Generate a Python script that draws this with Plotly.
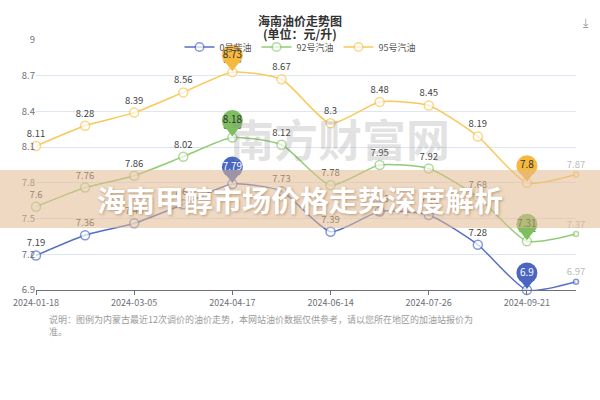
import plotly.graph_objects as go

# ---- data ----
dates = ["2024-01-18", "2024-02-01", "2024-03-05", "2024-03-19", "2024-04-17", "2024-05-16",
         "2024-06-14", "2024-06-28", "2024-07-26", "2024-09-06", "2024-09-21", "2024-10-11"]
tick_dates = ["2024-01-18", "2024-03-05", "2024-04-17", "2024-06-14", "2024-07-26", "2024-09-21"]
diesel = [7.19, 7.36, 7.46, 7.62, 7.79, 7.73, 7.39, 7.56, 7.53, 7.28, 6.90, 6.97]
gas92 = [7.60, 7.76, 7.86, 8.02, 8.18, 8.12, 7.78, 7.95, 7.92, 7.68, 7.31, 7.37]
gas95 = [8.11, 8.28, 8.39, 8.56, 8.73, 8.67, 8.30, 8.48, 8.45, 8.19, 7.80, 7.87]
series_names = ["0号柴油", "92号汽油", "95号汽油"]
y_ticks = [6.9, 7.2, 7.5, 7.8, 8.1, 8.4, 8.7, 9.0]
y_tick_text = ["6.9", "7.2", "7.5", "7.8", "8.1", "8.4", "8.7", "9"]

# ---- style ----
W, H = 600, 400
ML, MR, MT, MB = 36, 24, 40, 110
plot_h = H - MT - MB
plot_w = W - ML - MR
ymin, ymax = 6.9, 9.0
px_per_unit = plot_h / (ymax - ymin)
line_colors = ["#5470c6", "#91cc75", "#fac858"]
pin_colors = ["#4a66c2", "#7dbf5e", "#f5b93e"]
pin_text_colors = ["#ffffff", "#333333", "#333333"]
FONT = "Noto Sans CJK SC, Noto Sans, sans-serif"


def py(px):
    """page pixel y -> paper y"""
    return (H - MB - px) / plot_h


def pxx(px):
    """page pixel x -> paper x"""
    return (px - ML) / plot_w


fig = go.Figure()
all_series = [diesel, gas92, gas95]
n = len(dates)
for vals, name, col in zip(all_series, series_names, line_colors):
    sizes = [9] * (n - 1) + [5]
    tcols = ["#444444"] * (n - 1) + ["#bbbbbb"]
    fig.add_trace(go.Scatter(
        x=dates, y=vals, name=name, mode="lines+markers+text",
        line=dict(color=col, width=1.5, shape="spline", smoothing=0.6),
        marker=dict(symbol="circle", size=sizes, color="white", line=dict(color=col, width=1.5)),
        text=[f"{v:g}" for v in vals], textposition="top center",
        textfont=dict(size=9.5, color=tcols, family=FONT),
        cliponaxis=False, hoverinfo="skip",
    ))

# pins at max & min of each series
for vals, pcol, tcol in zip(all_series, pin_colors, pin_text_colors):
    idxs = [vals.index(max(vals)), vals.index(min(vals))]
    xs = [dates[i] for i in idxs]
    ys = [vals[i] for i in idxs]
    fig.add_trace(go.Scatter(
        x=xs, y=[v + 7 / px_per_unit for v in ys], mode="markers",
        marker=dict(symbol="triangle-down", size=12, color=pcol),
        showlegend=False, hoverinfo="skip", cliponaxis=False))
    fig.add_trace(go.Scatter(
        x=xs, y=[v + 17 / px_per_unit for v in ys], mode="markers+text",
        marker=dict(symbol="circle", size=21, color=pcol),
        text=[f"{v:g}" for v in ys], textposition="middle center",
        textfont=dict(size=10, color=tcol, family=FONT),
        showlegend=False, hoverinfo="skip", cliponaxis=False))

fig.update_layout(
    width=W, height=H,
    margin=dict(l=ML, r=MR, t=MT, b=MB),
    paper_bgcolor="white", plot_bgcolor="white",
    font=dict(family=FONT, color="#6e7079"),
    showlegend=True,
    legend=dict(orientation="h", x=pxx(300), xanchor="center",
                y=py(47), yanchor="middle", yref="paper",
                font=dict(size=9, color="#555555", family=FONT),
                bgcolor="rgba(0,0,0,0)", itemwidth=30),
    xaxis=dict(type="category", range=[0, n - 1], tickvals=tick_dates, ticktext=tick_dates,
               showgrid=False, showline=True, linecolor="#6e7079", linewidth=1,
               ticks="outside", ticklen=4, tickcolor="#6e7079",
               tickfont=dict(size=9, color="#6e7079", family=FONT)),
    yaxis=dict(range=[ymin, ymax], tickvals=y_ticks, ticktext=y_tick_text,
               showgrid=True, gridcolor="#e0e6f1", zeroline=False, showline=False,
               ticks="", tickfont=dict(size=9.5, color="#6e7079", family=FONT)),
)

# title (two lines)
fig.add_annotation(text="<b>海南油价走势图</b>", xref="paper", yref="paper",
                   x=pxx(300), y=py(10), showarrow=False,
                   font=dict(size=12, color="#333333", family=FONT))
fig.add_annotation(text="<b>(单位：元/升)</b>", xref="paper", yref="paper",
                   x=pxx(300), y=py(23), showarrow=False,
                   font=dict(size=12, color="#333333", family=FONT))

# banner overlay
fig.add_shape(type="rect", xref="paper", yref="paper",
              x0=pxx(0), x1=pxx(W), y0=py(228), y1=py(170),
              fillcolor="rgba(225,185,145,0.55)", line=dict(width=0), layer="above")

fig.add_annotation(text="海南甲醇市场价格走势深度解析", xref="paper", yref="paper",
                   x=pxx(300), y=py(199), showarrow=False,
                   font=dict(size=29, color="white", family=FONT, weight="bold",
                             shadow="1px 1px 3px rgba(120,80,40,0.45)"))

# watermark
fig.add_annotation(text="南方财富网", xref="paper", yref="paper",
                   x=pxx(340), y=py(138), showarrow=False,
                   font=dict(size=44, color="rgba(140,140,140,0.25)", family=FONT, weight="bold"))

# footnote
fig.add_annotation(text="说明：图例为内蒙古最近12次调价的油价走势，本网站油价数据仅供参考，请以您所在地区的加油站报价为<br>准。",
                   xref="paper", yref="paper", x=pxx(47), y=py(311),
                   xanchor="left", yanchor="top", align="left", showarrow=False,
                   font=dict(size=9, color="#9a9a9a", family=FONT))

# download icon
fig.add_annotation(text="⤓", xref="paper", yref="paper", x=pxx(591),
                   y=py(11), showarrow=False,
                   font=dict(size=12, color="#999999"))

fig.write_html("out.html", config={"displayModeBar": False},
               post_script="document.body.style.margin='0';document.body.style.overflow='hidden';")
